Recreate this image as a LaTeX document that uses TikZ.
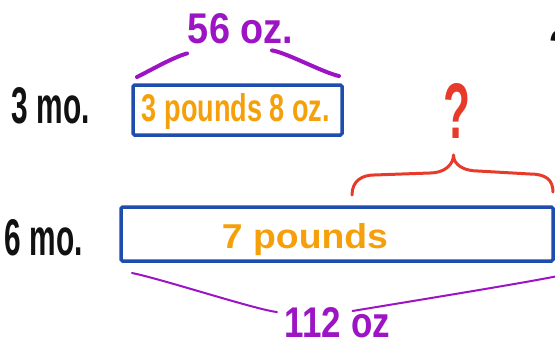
\documentclass[tikz,border=0pt]{standalone}
\usepackage{fontspec}
\setmainfont{Liberation Sans}
\usepackage{graphicx}
\usetikzlibrary{calc}
\definecolor{cTape}{HTML}{1F4DAE}
\definecolor{cLb}{HTML}{F5A00A}
\definecolor{cOz}{HTML}{9C14C4}
\definecolor{cAsk}{HTML}{E83A2A}
\definecolor{cInk}{HTML}{111111}
\tikzset{
  tape/.style ={draw=cTape,line width=3.5pt,rounded corners=1.5pt,
                inner sep=0pt,outer sep=0pt},
  hw/.style   ={inner sep=0pt,outer sep=0pt,anchor=base,font=\bfseries},
  ozl/.style  ={cOz,line width=4pt,line cap=round},
  ozt/.style  ={cOz,line width=2pt,line cap=round},
  askl/.style ={cAsk,line width=3pt,line cap=round,line join=round},
}
\newcommand{\hand}[3]{\resizebox{#1pt}{#2pt}{#3}}

\begin{document}
\begin{tikzpicture}[x=1pt,y=-1pt]
\useasboundingbox (0,0) rectangle (555,346);
% row labels
\node[hw,text=cInk] (m3) at (51,123) {\hand{78}{36}{3 mo.}};
\node[hw,text=cInk] (m6) at (44,255) {\hand{78}{36}{6 mo.}};
\node[hw,text=cInk] (cut) at (559,65) {\hand{20}{35}{?}};

% tapes
\node[tape,minimum width=209pt,minimum height=50pt] (top) at (237.5,110) {};
\node[tape,minimum width=432pt,minimum height=54pt] (bot) at (337,234) {};
\node[hw,text=cLb] (lb3) at (236,121) {\hand{188}{28}{3 pounds 8 oz.}};
\node[hw,text=cLb] (lb7) at (305,248) {\hand{166}{25}{7 pounds}};

% totals
\node[hw,text=cOz] (oz56) at (240.5,43) {\hand{105}{30}{56 oz.}};
\node[hw,text=cOz] (oz112) at (337.5,337) {\hand{105}{30}{112 oz}};
\node[hw,text=cAsk] (q) at (456.5,138) {\hand{27}{55}{?}};

% braces
\draw[ozl] ($(top.north west)+(4,-8)$) .. controls +(16,-8) and +(-14,4) .. ($(oz56.south west)+(-1,10)$);
\draw[ozl] ($(oz56.south)+(31.5,7)$) .. controls +(14,2) and +(-15,-3) .. ($(top.north east)+(-3,-9)$);
\draw[ozt] ($(bot.south west)+(11,12)$) .. controls +(30,6) and +(-20,-2) .. ($(oz112.north west)+(-8,5)$);
\draw[ozt] ($(oz112.north)+(15,4)$) .. controls +(60,-10) and +(-40,8) .. ($(bot.south east)+(5,15)$);

\coordinate (bL) at ($(bot.north)+(15,-12)$);
\coordinate (bR) at ($(bot.north east)+(0,-15)$);
\coordinate (tip) at ($(q.base)+(-3,17)$);
\draw[askl] (bL) .. controls +(0,-14) and +(-12,0) .. ++(22,-20) -- ++(56,-2)
  .. controls +(14,0) and +(0,10) .. (tip)
  .. controls +(0,10) and +(-14,0) .. ++(24.5,16) -- ++(52,3)
  .. controls +(16,0) and +(0,-12) .. (bR);
\end{tikzpicture}
\end{document}
